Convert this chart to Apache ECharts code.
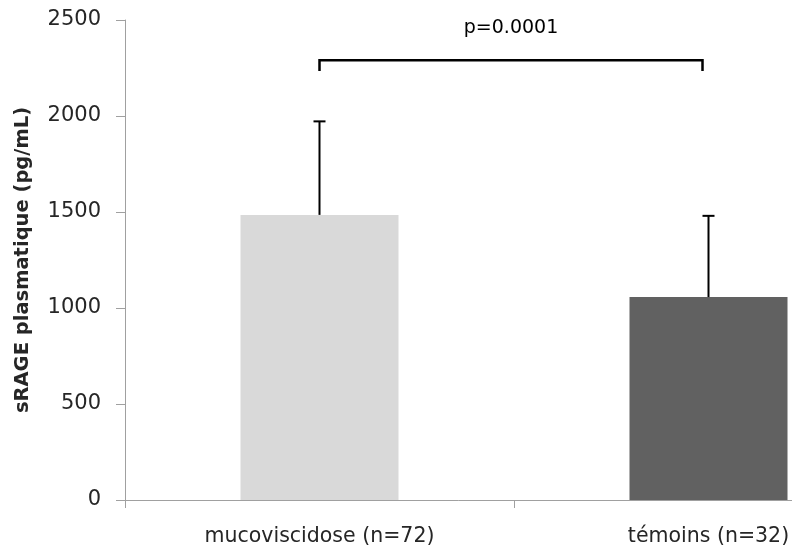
<!DOCTYPE html>
<html>
<head>
<meta charset="utf-8">
<script src="https://cdn.jsdelivr.net/npm/echarts@6/dist/echarts.min.js"></script>
<style>html,body{margin:0;padding:0;background:#fff}#c{width:792px;height:548px}</style>
</head>
<body>
<div id="c"></div>
<script>
var categories = ['mucoviscidose (n=72)', 'témoins (n=32)'];
var means = [1485, 1057];
var sdUpper = [1972, 1480];
var yTicks = [0, 500, 1000, 1500, 2000, 2500];
var bracketY = 2290;
var bracketFoot = 2235;
var pLabel = 'p=0.0001';
var yTitle = 'sRAGE plasmatique (pg/mL)';
var barColors = ['#d9d9d9', '#616161'];

var FONT = 'DejaVu Sans';
var chart = echarts.init(document.getElementById('c'), null, {renderer: 'canvas'});
chart.setOption({
  animation: false,
  grid: {left: 125, top: 20, width: 778, height: 480, containLabel: false, outerBoundsMode: 'none'},
  xAxis: {
    type: 'category',
    data: categories,
    axisLine: {lineStyle: {color: '#a0a0a0', width: 1}},
    axisTick: {show: true, length: 8, lineStyle: {color: '#a0a0a0'}},
    axisLabel: {color: '#262626', fontFamily: FONT, fontSize: 20.5, margin: 26}
  },
  yAxis: {
    type: 'value', min: yTicks[0], max: yTicks[yTicks.length - 1], interval: 500,
    name: yTitle, nameLocation: 'middle', nameGap: 92,
    nameTextStyle: {color: '#262626', fontFamily: FONT, fontSize: 19.5, fontWeight: 'bold'},
    axisLine: {show: true, lineStyle: {color: '#a0a0a0', width: 1}},
    axisTick: {show: true, length: 9, lineStyle: {color: '#a0a0a0'}},
    splitLine: {show: false},
    axisLabel: {color: '#262626', fontFamily: FONT, fontSize: 21, margin: 24, formatter: function (v) { return String(v); }}
  },
  series: [
    {
      type: 'bar', barWidth: 158,
      data: means.map(function (v, i) { return {value: v, itemStyle: {color: barColors[i]}}; }),
      z: 2
    },
    {
      type: 'custom', z: 3,
      data: categories.map(function (c, i) { return [i, means[i], sdUpper[i]]; }),
      renderItem: function (params, api) {
        var base = api.coord([api.value(0), api.value(1)]);
        var top = api.coord([api.value(0), api.value(2)]);
        return {type: 'group', children: [
          {type: 'line', shape: {x1: top[0], y1: base[1], x2: top[0], y2: top[1]}, style: {stroke: '#000', lineWidth: 2}},
          {type: 'line', shape: {x1: top[0] - 6, y1: top[1], x2: top[0] + 6, y2: top[1]}, style: {stroke: '#000', lineWidth: 2}}
        ]};
      }
    },
    {
      type: 'custom', z: 3,
      data: [[0, 1, bracketY, bracketFoot]],
      renderItem: function (params, api) {
        var a = api.coord([api.value(0), api.value(2)]);
        var b = api.coord([api.value(1), api.value(2)]);
        var f = api.coord([api.value(0), api.value(3)]);
        b[0] -= 6;
        return {type: 'group', children: [
          {type: 'polyline', shape: {points: [[a[0], f[1]], [a[0], a[1]], [b[0], b[1]], [b[0], f[1]]]}, style: {stroke: '#000', lineWidth: 2.5, fill: null}},
          {type: 'text', style: {text: pLabel, x: (a[0] + b[0]) / 2, y: a[1] - 32, align: 'center', verticalAlign: 'middle', fill: '#000', font: '19px "' + FONT + '"'}}
        ]};
      }
    }
  ]
});
</script>
</body>
</html>
